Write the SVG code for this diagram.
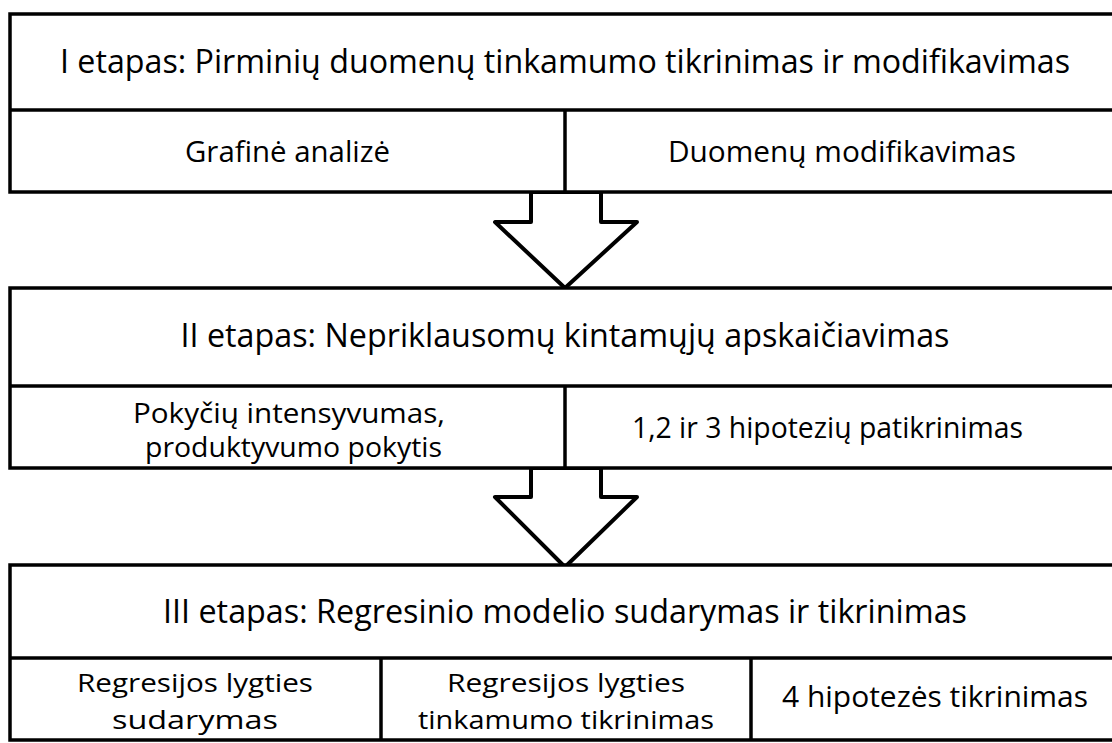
<svg xmlns="http://www.w3.org/2000/svg" width="1112" height="743" viewBox="0 0 1112 743">
<style>
.box{fill:#fff;stroke:#000;stroke-width:3.5}
.ln{stroke:#000;stroke-width:3.5;fill:none}
.arrow{fill:#fff;stroke:#000;stroke-width:4;stroke-linejoin:round}
text{font-family:"Open Sans","Noto Sans","DejaVu Sans",sans-serif;fill:#000;text-anchor:middle}
.t{font-size:32px}
.c{font-size:29px}
.c2{font-size:27px}
.c3{font-size:26px}
</style>
<rect width="1112" height="743" fill="#fff"/>
<g id="connectors">
<polygon class="arrow" points="531,192 601,192 601,222 637,222 565,288 495,222 531,222"/>
<polygon class="arrow" points="531,468 601,468 601,497 637,497 565,567 495,497 531,497"/>
</g>
<g id="stage1">
<rect class="box" x="10" y="14" width="1110" height="178"/>
<line class="ln" x1="10" y1="110" x2="1120" y2="110"/>
<line class="ln" x1="565" y1="110" x2="565" y2="192"/>
<text class="t" x="565" y="73" textLength="1010" lengthAdjust="spacingAndGlyphs">I etapas: Pirminių duomenų tinkamumo tikrinimas ir modifikavimas</text>
<text class="c" x="287.5" y="162" textLength="205" lengthAdjust="spacingAndGlyphs">Grafinė analizė</text>
<text class="c" x="842" y="162" textLength="348" lengthAdjust="spacingAndGlyphs">Duomenų modifikavimas</text>
</g>
<g id="stage2">
<rect class="box" x="10" y="288" width="1110" height="180"/>
<line class="ln" x1="10" y1="386" x2="1120" y2="386"/>
<line class="ln" x1="565" y1="386" x2="565" y2="468"/>
<text class="t" x="565" y="347" textLength="769" lengthAdjust="spacingAndGlyphs">II etapas: Nepriklausomų kintamųjų apskaičiavimas</text>
<text class="c2" x="289" y="423" textLength="312" lengthAdjust="spacingAndGlyphs">Pokyčių intensyvumas,</text>
<text class="c2" x="293.5" y="457" textLength="297" lengthAdjust="spacingAndGlyphs">produktyvumo pokytis</text>
<text class="c" x="827.5" y="438" textLength="391" lengthAdjust="spacingAndGlyphs">1,2 ir 3 hipotezių patikrinimas</text>
</g>
<g id="stage3">
<rect class="box" x="10" y="565" width="1110" height="175"/>
<line class="ln" x1="10" y1="658" x2="1120" y2="658"/>
<line class="ln" x1="381" y1="658" x2="381" y2="740"/>
<line class="ln" x1="751" y1="658" x2="751" y2="740"/>
<text class="t" x="565" y="623" textLength="804" lengthAdjust="spacingAndGlyphs">III etapas: Regresinio modelio sudarymas ir tikrinimas</text>
<text class="c3" x="195" y="692" textLength="236" lengthAdjust="spacingAndGlyphs">Regresijos lygties</text>
<text class="c3" x="195" y="729" textLength="166" lengthAdjust="spacingAndGlyphs">sudarymas</text>
<text class="c3" x="566" y="692" textLength="238" lengthAdjust="spacingAndGlyphs">Regresijos lygties</text>
<text class="c3" x="566" y="729" textLength="296" lengthAdjust="spacingAndGlyphs">tinkamumo tikrinimas</text>
<text class="c" x="935" y="707" textLength="306" lengthAdjust="spacingAndGlyphs">4 hipotezės tikrinimas</text>
</g>
</svg>
